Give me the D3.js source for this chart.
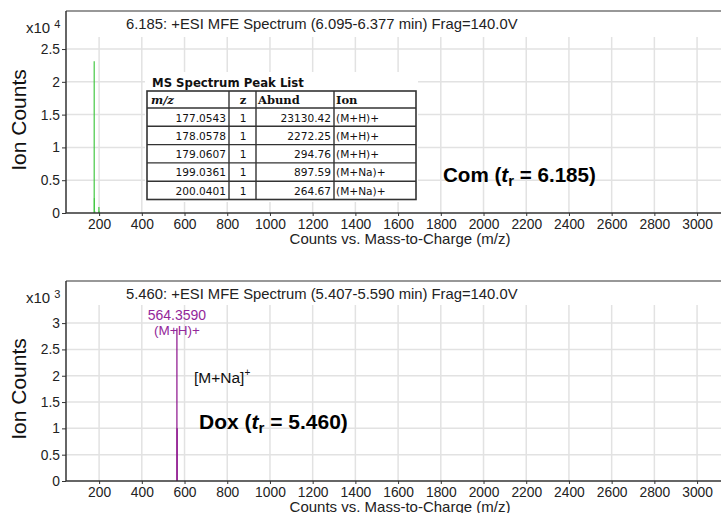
<!DOCTYPE html>
<html>
<head>
<meta charset="utf-8">
<script src="https://cdn.jsdelivr.net/npm/d3@7"></script>
<style>
  body { margin: 0; background: #fff; }
  svg { display: block; font-family: "Liberation Sans", Arial, sans-serif; }
</style>
</head>
<body>
<div id="chart"></div>
<script>
// shared m/z ticks
const mzTicks = [200, 400, 600, 800, 1000, 1200, 1400, 1600, 1800, 2000, 2200, 2400, 2600, 2800, 3000];

// Com spectrum (peak list)
const comMz = [177.0543, 178.0578, 179.0607, 199.0361, 200.0401];
const comZ = [1, 1, 1, 1, 1];
const comAbund = [23130.42, 2272.25, 294.76, 897.59, 264.67];
const comIon = ["(M+H)+", "(M+H)+", "(M+H)+", "(M+Na)+", "(M+Na)+"];
const comTicks = [0, 0.5, 1, 1.5, 2, 2.5]; // x10^4

// Dox spectrum
const doxMz = [564.359, 565.362];
const doxAbund = [2900, 1000];
const doxTicks = [0, 0.5, 1, 1.5, 2, 2.5, 3]; // x10^3

const width = 721;
const height = 513;

const svg = d3.select("#chart").append("svg").attr("width", width).attr("height", height);

const x = d3.scaleLinear().domain([45, 3112]).range([66, 721]);

function drawPanel(p) {
  const g = svg.append("g");
  const y = d3.scaleLinear().domain([0, p.yMax]).range([p.bottom, p.top]);
  const mult = Math.pow(10, p.exp);

  // grid
  g.append("g")
    .selectAll("line")
    .data(mzTicks)
    .enter()
    .append("line")
    .attr("x1", (d) => x(d))
    .attr("x2", (d) => x(d))
    .attr("y1", p.gridTop)
    .attr("y2", p.bottom)
    .attr("stroke", "#e2e2e2")
    .attr("stroke-width", 1.5);
  g.append("g")
    .selectAll("line")
    .data(p.ticks.slice(1))
    .enter()
    .append("line")
    .attr("x1", 66)
    .attr("x2", width)
    .attr("y1", (d) => y(d * mult))
    .attr("y2", (d) => y(d * mult))
    .attr("stroke", "#e2e2e2")
    .attr("stroke-width", 1.5);

  // frame top
  g.append("line").attr("x1", 66).attr("x2", width).attr("y1", p.top).attr("y2", p.top)
    .attr("stroke", "#333").attr("stroke-width", 1.2);

  // peaks
  g.append("g")
    .selectAll("line")
    .data(p.mz.map((m, i) => [m, p.abund[i]]))
    .enter()
    .append("line")
    .attr("x1", (d) => x(d[0]))
    .attr("x2", (d) => x(d[0]))
    .attr("y1", p.bottom)
    .attr("y2", (d) => y(d[1]))
    .attr("stroke", p.color)
    .attr("stroke-width", 1.2);

  // axes
  const yAxis = g.append("g")
    .attr("transform", "translate(66,0)")
    .call(d3.axisLeft(y).tickValues(p.ticks.map((t) => t * mult)).tickFormat((d) => String(+(d / mult).toFixed(1))).tickSize(4).tickPadding(2));
  yAxis.select(".domain").attr("d", `M0,${p.top}V${p.bottom}`);
  const xAxis = g.append("g")
    .attr("transform", `translate(0,${p.bottom})`)
    .call(d3.axisBottom(x).tickValues(mzTicks).tickFormat((d) => String(d)).tickSize(3).tickPadding(3));
  xAxis.select(".domain").attr("d", `M66,0H${width}`);
  g.selectAll(".domain").attr("stroke", "#333").attr("stroke-width", 1.5);
  g.selectAll(".tick line").attr("stroke", "#333");
  g.selectAll(".tick text").attr("font-size", 13.8).attr("fill", "#222").attr("font-family", "Liberation Sans, Arial, sans-serif");

  // labels
  g.append("text").attr("x", 126).attr("y", p.top + 18).attr("font-size", 14.8).attr("fill", "#222").text(p.title);
  const mt = g.append("text").attr("x", 26).attr("y", p.top + 22).attr("font-size", 15).attr("fill", "#222");
  mt.append("tspan").text("x10 ");
  mt.append("tspan").attr("dy", -5).attr("font-size", 11).text(p.exp);
  g.append("text")
    .attr("transform", `translate(26,${(p.top + p.bottom) / 2 + 8}) rotate(-90)`)
    .attr("text-anchor", "middle")
    .attr("font-size", 21)
    .attr("fill", "#111")
    .text("Ion Counts");
  g.append("text").attr("x", 400).attr("y", p.bottom + 30.5).attr("text-anchor", "middle")
    .attr("font-size", 15).attr("fill", "#222").text("Counts vs. Mass-to-Charge (m/z)");

  const nm = g.append("text").attr("x", p.nameX).attr("y", p.nameY).attr("font-size", p.nameSize).attr("font-weight", "bold").attr("fill", "#000");
  nm.append("tspan").text(p.name + " (");
  nm.append("tspan").attr("font-style", "italic").text("t");
  nm.append("tspan").attr("dy", 4).attr("font-size", p.nameSize * 0.72).text("r");
  nm.append("tspan").attr("dy", -4).text(" = " + p.tr + ")");
  return { g, y };
}

// top panel
const comPanel = drawPanel({
  top: 11, bottom: 213, gridTop: 37, yMax: 30800, exp: 4, ticks: comTicks,
  mz: comMz, abund: comAbund, color: "#45c845",
  title: "6.185: +ESI MFE Spectrum (6.095-6.377 min) Frag=140.0V",
  name: "Com", tr: "6.185", nameX: 443, nameY: 182, nameSize: 20.6
});

// peak list table
const tbl = comPanel.g.append("g");
tbl.append("rect").attr("x", 145).attr("y", 72).attr("width", 273).attr("height", 130).attr("fill", "#fff");
tbl.append("text").attr("x", 152).attr("y", 87).attr("font-family", "DejaVu Sans, sans-serif")
  .attr("font-weight", "bold").attr("font-size", 11.7).attr("fill", "#111").text("MS Spectrum Peak List");
const colX = [147, 229, 256, 334, 416];
const headH = 17;
const rowH = 18.3;
const ty0 = 91;
const tBottom = ty0 + headH + rowH * comMz.length;
tbl.append("rect").attr("x", colX[0]).attr("y", ty0).attr("width", colX[4] - colX[0]).attr("height", tBottom - ty0)
  .attr("fill", "none").attr("stroke", "#333").attr("stroke-width", 1.6);
tbl.selectAll("line.col").data(colX.slice(1, 4)).enter().append("line")
  .attr("x1", (d) => d).attr("x2", (d) => d).attr("y1", ty0).attr("y2", tBottom)
  .attr("stroke", "#333").attr("stroke-width", 1.4);
tbl.selectAll("line.row").data(comMz).enter().append("line")
  .attr("x1", colX[0]).attr("x2", colX[4])
  .attr("y1", (d, i) => ty0 + headH + i * rowH).attr("y2", (d, i) => ty0 + headH + i * rowH)
  .attr("stroke", "#333").attr("stroke-width", 1.4);
const hdr = tbl.append("g").attr("font-family", "DejaVu Serif, serif").attr("font-weight", "bold").attr("font-size", 11.5).attr("fill", "#111");
hdr.append("text").attr("x", 151).attr("y", ty0 + 13).attr("font-style", "italic").text("m/z");
hdr.append("text").attr("x", 243).attr("y", ty0 + 13).attr("text-anchor", "middle").text("z");
hdr.append("text").attr("x", 258).attr("y", ty0 + 13).text("Abund");
hdr.append("text").attr("x", 336).attr("y", ty0 + 13).text("Ion");
const rows = tbl.selectAll("g.r").data(comMz).enter().append("g")
  .attr("font-family", "DejaVu Sans, sans-serif").attr("font-size", 10.6).attr("fill", "#111")
  .attr("transform", (d, i) => `translate(0,${ty0 + headH + i * rowH + 13.5})`);
rows.append("text").attr("x", 226).attr("text-anchor", "end").text((d) => d.toFixed(4));
rows.append("text").attr("x", 243).attr("text-anchor", "middle").text((d, i) => comZ[i]);
rows.append("text").attr("x", 331).attr("text-anchor", "end").text((d, i) => comAbund[i].toFixed(2));
rows.append("text").attr("x", 336).text((d, i) => comIon[i]);

// bottom panel
const doxPanel = drawPanel({
  top: 281, bottom: 481, gridTop: 305, yMax: 3800, exp: 3, ticks: doxTicks,
  mz: doxMz, abund: doxAbund, color: "#8b0f8b",
  title: "5.460: +ESI MFE Spectrum (5.407-5.590 min) Frag=140.0V",
  name: "Dox", tr: "5.460", nameX: 199, nameY: 429, nameSize: 21
});
doxPanel.g.append("text").attr("x", x(doxMz[0])).attr("y", 320).attr("text-anchor", "middle")
  .attr("font-size", 14).attr("fill", "#93279a").text(doxMz[0].toFixed(4));
doxPanel.g.append("text").attr("x", x(doxMz[0])).attr("y", 335).attr("text-anchor", "middle")
  .attr("font-size", 13.5).attr("fill", "#93279a").text("(M+H)+");
const na = doxPanel.g.append("text").attr("x", 194).attr("y", 383).attr("font-size", 15.5).attr("fill", "#111");
na.append("tspan").text("[M+Na]");
na.append("tspan").attr("dy", -7).attr("font-size", 10).text("+");
</script>
</body>
</html>
